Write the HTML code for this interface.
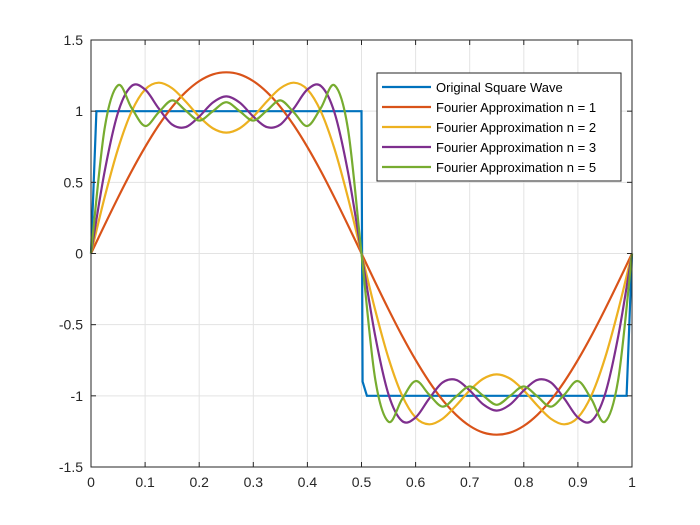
<!DOCTYPE html>
<html><head><meta charset="utf-8"><style>
body{margin:0;background:#fff;}
svg{display:block;font-family:"Liberation Sans",Arial,sans-serif;}
</style></head><body>
<svg id="chart" width="700" height="525" viewBox="0 0 700 525">
<rect x="0" y="0" width="700" height="525" fill="#fff"/>
<g id="grid"></g>
<g id="series"></g>
<rect x="91" y="40" width="541" height="427" fill="none" stroke="#262626" stroke-width="1"/>
<g id="ticks"></g>
<g>
<rect x="377" y="73" width="244" height="108" fill="#fff" stroke="#262626" stroke-width="1"/>
<g id="legend-entries"></g>
</g>
</svg>
<script>
const xTicks=[0,0.1,0.2,0.3,0.4,0.5,0.6,0.7,0.8,0.9,1];
const yTicks=[-1.5,-1,-0.5,0,0.5,1,1.5];
const yTickLabels=["-1.5","-1","-0.5","0","0.5","1","1.5"];
const xTickLabels=["0","0.1","0.2","0.3","0.4","0.5","0.6","0.7","0.8","0.9","1"];
const tSamples=[0,0.025,0.05,0.075,0.1,0.125,0.15,0.175,0.2,0.225,0.25,0.275,0.3,0.325,0.35,0.375,0.4,0.425,0.45,0.475,0.5,0.525,0.55,0.575,0.6,0.625,0.65,0.675,0.7,0.725,0.75,0.775,0.8,0.825,0.85,0.875,0.9,0.925,0.95,0.975,1];
const squareX=[0,0.01,0.5,0.502,0.51,0.99,1];
const squareY=[0,1,1,-0.9,-1,-1,0];
const n1=[0,0.199,0.393,0.578,0.748,0.900,1.030,1.134,1.211,1.258,1.273,1.258,1.211,1.134,1.030,0.900,0.748,0.578,0.393,0.199,0,-0.199,-0.393,-0.578,-0.748,-0.900,-1.030,-1.134,-1.211,-1.258,-1.273,-1.258,-1.211,-1.134,-1.030,-0.900,-0.748,-0.578,-0.393,-0.199,0];
const n2=[0,0.392,0.736,0.997,1.152,1.200,1.161,1.068,0.962,0.880,0.849,0.880,0.962,1.068,1.161,1.200,1.152,0.997,0.736,0.392,0,-0.392,-0.736,-0.997,-1.152,-1.200,-1.161,-1.068,-0.962,-0.880,-0.849,-0.880,-0.962,-1.068,-1.161,-1.200,-1.152,-0.997,-0.736,-0.392,0];
const n3=[0,0.572,0.991,1.177,1.152,1.020,0.906,0.888,0.962,1.060,1.104,1.060,0.962,0.888,0.906,1.020,1.152,1.177,0.991,0.572,0,-0.572,-0.991,-1.177,-1.152,-1.020,-0.906,-0.888,-0.962,-1.060,-1.104,-1.060,-0.962,-0.888,-0.906,-1.020,-1.152,-1.177,-0.991,-0.572,0];
const n5=[0,0.874,1.182,1.023,0.896,0.991,1.076,1.004,0.934,0.999,1.063,0.999,0.934,1.004,1.076,0.991,0.896,1.023,1.182,0.874,0,-0.874,-1.182,-1.023,-0.896,-0.991,-1.076,-1.004,-0.934,-0.999,-1.063,-0.999,-0.934,-1.004,-1.076,-0.991,-0.896,-1.023,-1.182,-0.874,0];
const legendLabels=["Original Square Wave","Fourier Approximation n = 1","Fourier Approximation n = 2","Fourier Approximation n = 3","Fourier Approximation n = 5"];
const colors=["#0072BD","#D95319","#EDB120","#7E2F8E","#77AC30"];

const NS="http://www.w3.org/2000/svg";
const X0=91,X1=632,Y0=467,Y1=40;
const sx=v=>X0+(X1-X0)*v;
const sy=v=>Y0-(Y0-Y1)*(v+1.5)/3;
function mk(tag,attrs,parent){const e=document.createElementNS(NS,tag);for(const k in attrs)e.setAttribute(k,attrs[k]);parent.appendChild(e);return e;}
const grid=document.getElementById('grid'),ticks=document.getElementById('ticks'),ser=document.getElementById('series');
xTicks.forEach((v,i)=>{
  const g=mk('line',{x1:sx(v),x2:sx(v),y1:Y1,y2:Y0,stroke:'#e3e3e3','stroke-width':1},grid);
  
  
  const t1=mk('line',{x1:sx(v),x2:sx(v),y1:Y0,y2:Y0-5,stroke:'#262626'},ticks);
  
  
  const t2=mk('line',{x1:sx(v),x2:sx(v),y1:Y1,y2:Y1+5,stroke:'#262626'},ticks);
  
  
  const l=mk('text',{x:sx(v),y:487,'text-anchor':'middle','font-size':14,fill:'#262626'},ticks);
  l.textContent=xTickLabels[i];
  
  
});
yTicks.forEach((v,i)=>{
  const g=mk('line',{x1:X0,x2:X1,y1:sy(v),y2:sy(v),stroke:'#e3e3e3','stroke-width':1},grid);
  
  
  const t1=mk('line',{x1:X0,x2:X0+5,y1:sy(v),y2:sy(v),stroke:'#262626'},ticks);
  
  
  const t2=mk('line',{x1:X1,x2:X1-5,y1:sy(v),y2:sy(v),stroke:'#262626'},ticks);
  
  
  const l=mk('text',{x:83,y:sy(v)+5,'text-anchor':'end','font-size':14,fill:'#262626'},ticks);
  l.textContent=yTickLabels[i];
  
  
});
function smoothPath(xs,ys){
  const P=xs.map((x,i)=>[sx(x),sy(ys[i])]);
  let d='M'+P[0][0]+','+P[0][1];
  for(let i=0;i<P.length-1;i++){
    const p0=P[Math.max(i-1,0)],p1=P[i],p2=P[i+1],p3=P[Math.min(i+2,P.length-1)];
    const c1=[p1[0]+(p2[0]-p0[0])/6,p1[1]+(p2[1]-p0[1])/6];
    const c2=[p2[0]-(p3[0]-p1[0])/6,p2[1]-(p3[1]-p1[1])/6];
    d+=' C'+c1[0]+','+c1[1]+' '+c2[0]+','+c2[1]+' '+p2[0]+','+p2[1];
  }
  return d;
}
const sq=mk('polyline',{points:squareX.map((x,i)=>sx(x)+','+sy(squareY[i])).join(' '),fill:'none',stroke:colors[0],'stroke-width':2.2},ser);


[[n1,'fourier-n1-line'],[n2,'fourier-n2-line'],[n3,'fourier-n3-line'],[n5,'fourier-n5-line']].forEach(([arr,name],k)=>{
  const p=mk('path',{d:smoothPath(tSamples,arr),fill:'none',stroke:colors[k+1],'stroke-width':2.2},ser);
  
  
});
const le=document.getElementById('legend-entries');
legendLabels.forEach((s,i)=>{
  const y=87+i*20;
  const ln=mk('line',{x1:382,x2:431,y1:y,y2:y,stroke:colors[i],'stroke-width':2.2},le);
  
  
  const t=mk('text',{x:436,y:y+5,'font-size':13,fill:'#000'},le);
  t.textContent=s;
  
  
});
</script>
</body></html>
